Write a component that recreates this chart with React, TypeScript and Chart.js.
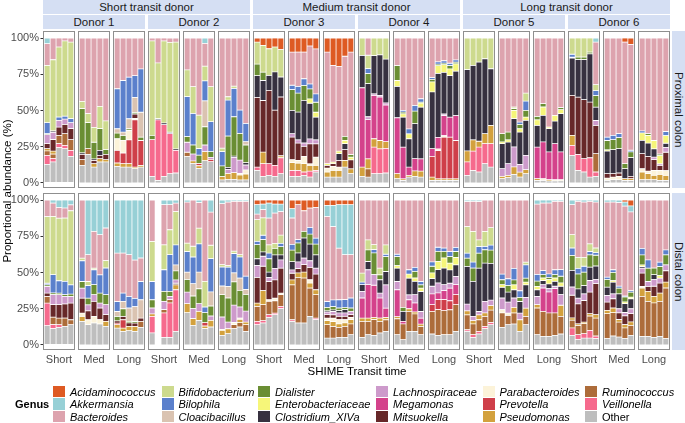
import React, { useEffect, useRef } from "react";
import { Chart, registerables } from "chart.js";

Chart.register(...registerables);

type Bar = { [k: string]: number };

// ---------- categories / labels ----------
const GENERA = [
  "Acidaminococcus", "Akkermansia", "Bacteroides", "Bifidobacterium", "Bilophila", "Cloacibacillus",
  "Dialister", "Enterobacteriaceae", "Clostridium_XIVa", "Lachnospiraceae", "Megamonas", "Mitsuokella",
  "Parabacteroides", "Prevotella", "Pseudomonas", "Ruminococcus", "Veillonella", "Other",
];
const KEYS = ["Ac", "Ak", "Ba", "Bi", "Bl", "Cl", "Di", "En", "Cx", "La", "Me", "Mi", "Pa", "Pr", "Ps", "Ru", "Ve", "Ot"];
const COLORS = [
  "#DE5A23", "#97D0D6", "#DDA3AE", "#CDDA8E", "#5B80CC", "#DAC3B1",
  "#6A8E33", "#F6F679", "#373140", "#CD9ACB", "#D4428B", "#672829",
  "#FCF3D9", "#CF3F49", "#D3A13D", "#AD6C3A", "#F66A8D", "#BEBEBE",
];
const TRANSIT_GROUPS = ["Short transit donor", "Medium transit donor", "Long transit donor"];
const DONORS = ["Donor 1", "Donor 2", "Donor 3", "Donor 4", "Donor 5", "Donor 6"];
const TRANSIT_TIMES = ["Short", "Med", "Long"];
const LOCATIONS = ["Proximal colon", "Distal colon"];
const Y_TICKS = [0, 25, 50, 75, 100];
const X_TITLE = "SHIME Transit time";
const Y_TITLE = "Proportional abundance (%)";
const LEGEND_TITLE = "Genus";

// ---------- data: proximal colon (5 timepoints per panel, % abundance) ----------
const proxD1Short: Bar[] = [
  { Ot: 12.9, Ve: 6.2, Ps: 1.6, Ru: 3, Mi: 3.4, La: 6.2, Di: 0.7, Bl: 7.6, Bi: 39.5, Ba: 15, Ak: 3.9 },
  { Ot: 14.5, Ve: 2.5, Ps: 2, Ru: 3, Mi: 8, La: 5, Cx: 1, Bi: 49, Ba: 15 },
  { Ot: 24.4, Ve: 2.8, Ru: 5.7, Mi: 5.7, La: 4.6, Bl: 2.3, Bi: 48.3, Ba: 6.2 },
  { Ot: 23.7, Ve: 2.3, Ru: 8, Mi: 6.4, La: 3.7, Bl: 2, Bi: 51.9, Ba: 2 },
  { Ot: 18.4, Ve: 4.1, Ru: 7.4, Mi: 7.6, La: 4.1, Bl: 2.8, Bi: 52.8, Ba: 2.8 },
];
const proxD1Med: Bar[] = [
  { Ot: 12.2, Ru: 3.9, Mi: 3.7, Cx: 1, Di: 30.5, Bi: 5, Ba: 43.7 },
  { Ot: 19.8, Ru: 3.9, Di: 18, Bi: 6.2, Ba: 52.1 },
  { Ot: 11, Ps: 2.3, Mi: 2.3, Cx: 1, Di: 11.5, Bi: 10.3, Ba: 61.6 },
  { Ot: 14.5, Ps: 2.3, Mi: 2.3, Cx: 3.4, Di: 15, Bi: 15.4, Ba: 47.1 },
  { Ot: 14.5, Ps: 1.6, Mi: 3.7, Di: 3.2, Bi: 19.8, Ba: 57.2 },
];
const proxD1Long: Bar[] = [
  { Ot: 11.5, Ps: 2.3, Pr: 8.7, Pa: 8, Di: 3.9, Cl: 3, Bl: 27.6, Ba: 35 },
  { Ot: 11, Ps: 2.3, Pr: 7.4, Pa: 8.7, Di: 3.4, Cl: 2.3, Bl: 35.6, Ba: 29.3 },
  { Ot: 11, Ps: 2.3, Pr: 16.5, Pa: 6.4, Di: 1.2, Cl: 6.9, Bl: 28.7, Ba: 27 },
  { Ot: 9.9, Ps: 1.1, Pr: 32.6, Mi: 3, Pa: 1, Di: 1.1, Cl: 10.3, Bl: 15, Ba: 26 },
  { Ot: 11, Ps: 1.1, Pr: 17.2, Di: 2.3, Cl: 17.2, Bl: 29.9, Ba: 21.3 },
];
const proxD2Short: Bar[] = [
  { Ot: 4.6, Ve: 25.3, Di: 3, Bi: 65.1, Ba: 2 },
  { Ot: 1.8, Ve: 41.8, Cx: 0.8, Bi: 38.4, Ba: 17.2 },
  { Ot: 4.6, Ve: 35.6, Cx: 1.2, Bi: 56.6, Ba: 2 },
  { Ot: 6.4, Ve: 27.6, Cx: 1, Bi: 62, Ba: 3 },
  { Ot: 6.9, Ve: 15.6, Cx: 1, Bi: 73.7, Ba: 2.8 },
];
const proxD2Med: Bar[] = [
  { Ot: 18.2, Ru: 3, La: 6.9, Di: 3.9, Bl: 27.6, Bi: 18.4, Ba: 22 },
  { Ot: 13.6, Ps: 1.6, La: 4.8, Di: 6.2, Bl: 21.8, Bi: 18.4, Ba: 33.6 },
  { Ot: 10.1, Pr: 1.6, Ps: 1.8, Di: 5.7, Bl: 4.6, Bi: 23, Ba: 53.2 },
  { Ot: 15.4, Ps: 6.2, La: 4.6, Di: 12.6, Cl: 17.9, Bl: 13.8, Bi: 10.1, Ba: 15.7, Ak: 3.7 },
  { Ot: 14.7, Pr: 1.6, La: 1.4, Di: 3.9, Bl: 20.7, Bi: 24.1, Ba: 33.6 },
];
const proxD2Long: Bar[] = [
  { Ot: 2.1, Ps: 2.3, Di: 7.4, Bl: 9.9, Bi: 2.3, Ba: 76 },
  { Ot: 2.5, Ps: 4.1, La: 2.8, Cx: 1.4, Di: 21.6, Bl: 24.8, Bi: 2.3, Ba: 40.5 },
  { Ot: 2.5, Ps: 4.6, La: 10.6, Cx: 0.9, Di: 27.1, Bl: 19.5, Bi: 1.6, Ba: 33.2 },
  { Ot: 2.1, Ps: 3.4, Pa: 1.1, La: 9.2, Di: 18.4, Bl: 16.1, Ba: 49.7 },
  { Ot: 2.1, Ps: 4.1, Pa: 2.8, La: 3.4, Cx: 1.6, Di: 12.2, Cl: 2.3, Bl: 12.6, Ba: 58.9 },
];
const proxD3Short: Bar[] = [
  { Ot: 8.7, Ve: 2.3, Mi: 48, Cx: 15, Di: 8, Bi: 15.2, Ac: 2.8 },
  { Ot: 4.6, Ve: 8.7, Ps: 8, Mi: 35.6, Cx: 13.8, Di: 5.7, Bi: 18.5, Ac: 5.1 },
  { Ot: 5.3, Ve: 8, Mi: 50.6, Cx: 10.3, Bi: 18.4, Ac: 7.4 },
  { Ot: 4.6, Ve: 7.6, Mi: 38, Cx: 26.4, Bi: 17.2, Ac: 6.2 },
  { Ot: 6.4, Ve: 11, Ps: 1.4, Mi: 40.5, Cx: 13.8, Bi: 18.9, Ac: 8 },
];
const proxD3Med: Bar[] = [
  { Ot: 4.6, Ve: 4.1, Ps: 5.3, Pa: 2.1, Mi: 15.6, La: 2.3, Cx: 16.1, Di: 14.3, Bl: 3, Ba: 22.9, Ac: 9.7 },
  { Ot: 4.6, Ve: 4.1, Ps: 5, Pa: 1.8, Mi: 12, La: 2.3, Cx: 19.1, Di: 13.1, Bl: 4.6, Ba: 23.7, Ac: 9.7 },
  { Ot: 5.3, Ve: 2.3, Ps: 5.7, Pa: 5.1, Mi: 6.9, La: 2.3, Cx: 29.4, Di: 10.3, Bl: 4.6, Ba: 18.4, Ac: 9.7 },
  { Ot: 4.1, Ve: 4.1, Ps: 3.9, Pa: 1.1, Mi: 13.8, La: 3.4, Cx: 24.6, En: 3, Di: 6.9, Bl: 3.4, Ba: 26.2, Ac: 5.5 },
  { Ot: 7.6, Ve: 1.1, Ps: 3.4, Pa: 5.7, Mi: 9.2, La: 2.8, Cx: 15.6, En: 3.4, Di: 6.9, Bl: 5.7, Ba: 31.1, Ac: 7.5 },
];
const proxD3Long: Bar[] = [
  { Ot: 4.1, Ps: 3.4, Pa: 2.8, Mi: 1.8, En: 1.2, Ba: 77, Ac: 9.7 },
  { Ot: 4.1, Ps: 4.6, Pa: 2.8, Mi: 1.8, En: 1.1, Ba: 66.7, Ac: 18.9 },
  { Ot: 4.1, Ps: 4.6, Pa: 2.3, Mi: 4.6, Cx: 4.6, En: 1.8, Ba: 58.5, Ac: 19.5 },
  { Ot: 11, Ps: 4.6, Mi: 7.4, Cx: 4.1, En: 2.3, Di: 2.8, Ba: 55.2, Ac: 12.6 },
  { Ot: 6.4, Ps: 3.4, Mi: 6.2, En: 1.8, Di: 1.8, Ba: 70.7, Ac: 9.7 },
];
const proxD4Short: Bar[] = [
  { Ot: 4.6, Ps: 6.4, Me: 54.7, Cx: 22.3, Bi: 12 },
  { Ot: 4.1, Ps: 6.9, Ru: 5.7, Me: 27, La: 2, Cx: 22.9, Di: 6.9, Bl: 3.4, Bi: 9.2, Ba: 11.9 },
  { Ot: 6.4, Ve: 18.4, Ps: 5.7, Me: 29.9, La: 1.1, Cx: 26.4, Bi: 12.1 },
  { Ot: 6.4, Ve: 17.2, Ps: 5.7, Me: 30, La: 1.1, Cx: 28, Bi: 11.6 },
  { Ot: 6.9, Ve: 17, Ps: 4.6, Me: 25.3, La: 1.4, Cx: 30.3, Bi: 14.5 },
];
const proxD4Med: Bar[] = [
  { Ot: 3, Ps: 3.4, Me: 38.6, Cx: 21.6, En: 4.1, Di: 10.3, Ba: 19 },
  { Ot: 1.8, Ps: 1.1, Me: 21.8, Cx: 20.7, En: 2.3, Di: 1.2, Bl: 1.2, Ba: 49.9 },
  { Ot: 4.1, Ps: 1.2, Me: 5.7, Cx: 19.5, En: 3.4, Bl: 3.4, Ba: 62.7 },
  { Ot: 4.6, Ps: 3.7, Me: 8.5, Cx: 24.1, Di: 8.7, Bl: 3.9, Ba: 46.5 },
  { Ot: 4.1, Ps: 4.1, Me: 8.5, Cx: 35.6, En: 2.8, Di: 0.7, Bl: 2.3, Ba: 41.9 },
];
const proxD4Long: Bar[] = [
  { Ot: 1.8, Ps: 2.3, Pr: 14.3, Me: 5.3, Cx: 39.1, En: 6.9, Di: 1.8, Bl: 1.2, Ba: 27.3 },
  { Ot: 1.8, Ps: 1.1, Pr: 19.5, Pa: 1.1, Me: 8, Cx: 44.1, En: 5.3, Di: 1.1, Bl: 1.6, Ba: 16.4 },
  { Ot: 1.8, Ps: 1.1, Pr: 28.7, Pa: 1.1, Me: 13.8, La: 1.1, Cx: 28.7, En: 5.3, Di: 1.1, Bl: 1.6, Ba: 15.7 },
  { Ot: 1.8, Ps: 1.1, Pr: 28.7, Me: 13.8, Cx: 28.7, En: 4.6, Di: 2.3, Bl: 1.6, Ba: 17.4 },
  { Ot: 1.8, Ps: 1.1, Pr: 26.4, Me: 17.2, Cx: 30.6, En: 5.1, Di: 1.1, Bl: 1.6, Ba: 15.1 },
];
const proxD5Short: Bar[] = [
  { Ot: 5.3, Ve: 9.2, Ps: 7.6, Cx: 56.1, Bi: 21.8 },
  { Ot: 8.7, Ve: 13.3, Ps: 7.8, Cx: 51.3, Bi: 18.9 },
  { Ot: 7.6, Ve: 17.2, Ps: 4, Cx: 54.6, Bi: 16.6 },
  { Ot: 13.3, Ve: 13.8, Ps: 6.9, Cx: 51.7, Bi: 14.3 },
  { Ot: 11, Ve: 16.1, Ps: 12.6, Cx: 39.1, Bi: 21.2 },
];
const proxD5Med: Bar[] = [
  { Ot: 3, Ps: 1.6, La: 5.3, Cx: 17.2, En: 1.2, Di: 5.7, Ba: 66 },
  { Ot: 3.7, Ps: 1.6, La: 8, Cx: 14.9, En: 1.6, Di: 5.3, Ba: 64.9 },
  { Ot: 6, Ps: 5.1, La: 13.8, Cx: 19.5, En: 5.7, Di: 1.2, Bi: 1.1, Ba: 47.6 },
  { Ot: 4.1, Ps: 3.4, La: 5.3, Cx: 22.3, En: 2.3, Di: 3, Bl: 1.6, Ba: 58 },
  { Ot: 6.4, Ps: 2.8, La: 9.9, Cx: 24.1, En: 2.3, Di: 4.6, Bl: 6.4, Bi: 5.5, Ba: 38 },
];
const proxD5Long: Bar[] = [
  { Ot: 1.8, Ps: 1.2, Me: 21.8, Cx: 14.9, En: 3.9, Di: 2.3, Ba: 54.1 },
  { Ot: 1.8, Pa: 1.2, Me: 25.3, Cx: 18.4, En: 5.7, Di: 2.3, Ba: 45.3 },
  { Ot: 1.4, Ps: 0.9, Me: 19.1, Cx: 16.1, En: 1.1, Ba: 61.4 },
  { Ot: 1.4, Pa: 0.9, Me: 24.8, Cx: 15.6, En: 3.9, Ba: 53.4 },
  { Ot: 1.4, Pa: 0.9, Me: 19.1, Cx: 26.4, En: 2.8, Di: 1.4, Ba: 48 },
];
const proxD6Short: Bar[] = [
  { Ot: 19.1, Ve: 6.9, Ps: 6.9, Mi: 27.6, Cx: 25.7, Di: 0.6, Bl: 2, Bi: 11.2 },
  { Ot: 8.7, Ve: 11, Mi: 39.5, Cx: 25.9, Di: 1.8, Bi: 13.1 },
  { Ot: 7.6, Ve: 9.2, Mi: 40.7, Cx: 27.6, Di: 1.8, Bi: 13.1 },
  { Ot: 4.1, Ve: 13.3, Mi: 38.4, Cx: 33.3, Di: 1.2, Bi: 9.7 },
  { Ot: 4.6, Ve: 3, Ru: 12.6, Mi: 19.5, La: 3.4, Cx: 9.2, Di: 8, Bl: 3.4, Bi: 4.1, Ba: 29.4, Ak: 2.8 },
];
const proxD6Med: Bar[] = [
  { Ot: 1.8, Pa: 1.6, Mi: 3, Cx: 15.6, En: 0.9, Di: 6.4, Bl: 2.3, Ba: 68.4 },
  { Ot: 2.3, Pa: 1.8, Mi: 2.3, Cx: 16.6, Di: 6.9, Bl: 3, Ba: 67.1 },
  { Ot: 2.3, Pa: 2.3, Mi: 2.3, Cx: 16.8, Di: 7.6, Bl: 2.8, Ba: 65.9 },
  { Ot: 1.8, Ps: 1.2, Cx: 6.9, Di: 3.4, Ba: 83.9, Ac: 2.8 },
  { Ot: 1.8, Ps: 1.2, Mi: 1.6, Cx: 12.9, Di: 3.9, Bl: 1.2, Ba: 73, Ac: 4.4 },
];
const proxD6Long: Bar[] = [
  { Ot: 2.3, Ps: 5.3, Pa: 2.3, Mi: 10.3, Cx: 9.2, En: 5.1, Bl: 1.4, Ba: 64.1 },
  { Ot: 2.3, Ps: 4.1, Pa: 1.8, Mi: 10.1, Cx: 9.2, En: 5.3, Di: 1.2, Ba: 66 },
  { Ot: 2.3, Ps: 3, Pa: 3.4, Mi: 7.4, La: 1.8, Cx: 5.7, En: 5.7, Ba: 70.7 },
  { Ot: 1.8, Ps: 4.1, Pa: 2.8, Mi: 3.4, La: 1.1, En: 5.7, Di: 1.1, Ba: 80 },
  { Ot: 1.8, Ps: 3.4, Pa: 3.4, Mi: 12.6, La: 3.4, Cx: 2.8, En: 5.3, Bl: 2.8, Ba: 64.5 },
];

// ---------- data: distal colon ----------
const distD1Short: Bar[] = [
  { Ot: 13.3, Ve: 15.6, Ru: 4.6, Mi: 2.3, La: 4.6, Di: 1.1, Bl: 1.1, Bi: 46, Ba: 11.4 },
  { Ot: 11.3, Ve: 2.8, Ru: 5.1, Mi: 8.7, La: 6.9, Di: 1.1, Bl: 12.6, Bi: 40.2, Ba: 9.2, Ak: 2.1 },
  { Ot: 12.2, Ve: 1.8, Ru: 4.6, Mi: 9.2, La: 6.9, Di: 1.1, Bl: 8.5, Bi: 43.2, Ba: 7.4, Ak: 5.1 },
  { Ot: 12.9, Ru: 5.7, Mi: 9.7, La: 5.3, Di: 1.1, Bl: 9.2, Bi: 43.7, Ba: 6.9, Ak: 5.5 },
  { Ot: 14, Ru: 3.4, Mi: 11.5, La: 4.6, Di: 1.6, Bl: 6.4, Bi: 51.1, Ba: 4.1, Ak: 3.3 },
];
const distD1Med: Bar[] = [
  { Ot: 16.3, Ps: 3.4, Pa: 2.3, Mi: 10.3, La: 6.9, Di: 4.6, Bl: 14.3, Bi: 1.8, Ba: 40.1 },
  { Ot: 14, Pa: 3.4, Mi: 6.2, La: 4.1, Di: 4.6, Bl: 8.7, Bi: 2.8, Ba: 18.5, Ak: 37.7 },
  { Ot: 15.2, Pa: 4.6, Mi: 10.3, La: 4.6, Di: 6.9, Bl: 10.3, Bi: 1.1, Ba: 25.4, Ak: 21.6 },
  { Ot: 14.5, Pa: 3, Mi: 8, La: 3.4, Di: 6.9, Bl: 12.6, Ba: 27.7, Ak: 23.9 },
  { Ot: 12.9, Ps: 3.4, Mi: 4.6, La: 6.9, Di: 6.9, Bl: 18.4, Bi: 5.1, Ba: 22.5, Ak: 19.3 },
];
const distD1Long: Bar[] = [
  { Ot: 11.7, Ps: 2.3, Pr: 1.1, Mi: 1.6, Di: 3, Cl: 3.4, Bl: 6.9, Ba: 33.4, Ak: 36.6 },
  { Ot: 9.4, Ps: 2.3, Pr: 5.7, Mi: 2.3, Di: 5.3, Cl: 5.1, Bl: 5.7, Ba: 27.6, Ak: 36.6 },
  { Ot: 9.9, Ps: 3, Mi: 2.3, Di: 1.1, Cl: 9.2, Bl: 8, Ba: 28.8, Ak: 37.7 },
  { Ot: 9.4, Ps: 3.4, Mi: 2.3, Di: 1.1, Cl: 10.3, Bl: 5.7, Ba: 26.4, Ak: 41.4 },
  { Ot: 12.2, Ru: 4.1, Mi: 2.3, Cl: 12.6, Bl: 12.6, Ba: 16.2, Ak: 40 },
];
const distD2Short: Bar[] = [
  { Ot: 8.3, Ve: 11.5, Ps: 1.6, La: 4.1, Di: 5.7, Bl: 12.6, Bi: 27.6, Ba: 28.6 },
  {},
  { Ot: 5.3, Ve: 16.8, Ru: 2.3, La: 5.7, Di: 6.9, Bl: 14.9, Bi: 17.2, Ba: 27.7, Ak: 3.2 },
  { Ot: 5.3, Ve: 23.7, Ru: 2.3, La: 2.3, Di: 3.4, Bl: 25.3, Bi: 17.2, Ba: 17.3, Ak: 3.2 },
  { Ot: 9.4, Ve: 28.7, Ps: 3.4, Mi: 1.1, La: 2.3, Di: 6.2, Cl: 4.1, Bl: 13.8, Bi: 23, Ba: 5.9, Ak: 2.1 },
];
const distD2Med: Bar[] = [
  { Ot: 22.3, Ps: 6.2, La: 8, Di: 8.7, Cl: 5, Bl: 14.3, Bi: 5.7, Ba: 28.4, Ak: 1.4 },
  { Ot: 13.6, Ps: 4.6, La: 6.9, Di: 8.7, Cl: 8.5, Bl: 18.4, Bi: 7.4, Ba: 31.9 },
  { Ot: 17, Ps: 6.2, La: 5.3, Di: 10.3, Cl: 11.5, Bl: 19.5, Bi: 10.8, Ba: 17.6, Ak: 1.8 },
  { Ot: 11.3, Pr: 2.3, Ps: 1.8, Di: 6.9, Bl: 3.9, Bi: 17.7, Ba: 56.1 },
  { Ot: 12.4, Ps: 4.6, La: 3, Di: 6.9, Cl: 9.7, Bl: 23, Bi: 9.2, Ba: 22.9, Ak: 8.3 },
];
const distD2Long: Bar[] = [
  { Ot: 6.7, Ps: 3.4, Pa: 0.7, La: 8.5, Di: 15.4, Cl: 6, Bl: 13.1, Bi: 1.6, Ba: 42.1, Ak: 2.5 },
  { Ot: 7.8, Ps: 3.4, La: 4.6, Di: 16.6, Cl: 8, Bl: 13.3, Bi: 1.1, Ba: 43.8, Ak: 1.4 },
  { Ot: 11.3, Ru: 2.8, Pa: 1.4, La: 12, Di: 16.1, Cl: 6.2, Bl: 13.3, Bi: 1.6, Ba: 34.4, Ak: 0.9 },
  { Ot: 12.4, Ru: 3, Ps: 2.3, Pa: 0.9, La: 7.6, Di: 11.5, Cl: 8.5, Bl: 14.5, Bi: 1.6, Ba: 36.8, Ak: 0.9 },
  { Ot: 9.4, Ru: 4.6, Ps: 1.8, La: 7.6, Di: 11.5, Cl: 3.4, Bl: 9.2, Ba: 51.6, Ak: 0.9 },
];
const distD3Short: Bar[] = [
  { Ot: 14, Ve: 2.3, Ru: 10.3, Ps: 2.3, Mi: 17.7, La: 8.3, Cx: 4.6, Di: 9.7, Bl: 2.3, Bi: 14.9, Ba: 3.9, Ak: 6.5, Ac: 3.2 },
  { Ot: 15.2, Ve: 1.6, Ru: 11, Ps: 9.7, Mi: 16.8, La: 6.9, Cx: 3, Di: 8.5, Bl: 3, Bi: 12, Ba: 5.7, Ak: 3.8, Ac: 2.8 },
  { Ot: 19.1, Ve: 1.8, Ru: 9.2, Pa: 1.1, Mi: 12.6, La: 2.8, Cx: 3.7, Di: 9.2, Bl: 3.9, Bi: 5.7, Ba: 18.5, Ak: 10.3, Ac: 2.1 },
  { Ot: 20.9, Ve: 1.1, Ru: 8.5, Pa: 1.8, Mi: 12.6, La: 8, Cx: 9.2, Di: 4.6, Bi: 3.4, Ba: 20.9, Ak: 6.2, Ac: 2.8 },
  { Ot: 25.1, Ve: 1.6, Ru: 8, Pa: 1.1, Mi: 17.2, La: 5.7, Cx: 3.4, Di: 5.7, Bl: 2.3, Bi: 5.7, Ba: 16.2, Ak: 5.2, Ac: 2.8 },
];
const distD3Med: Bar[] = [
  { Ot: 16.3, Ve: 1.1, Ru: 24.1, Ps: 3.4, Mi: 4.6, La: 2.3, Cx: 5.7, Di: 8, Bl: 3.9, Ba: 18.2, Ak: 6.4, Ac: 6 },
  { Ot: 15.2, Ru: 31.5, Ps: 3, Mi: 3, La: 4.6, Cx: 6.2, Di: 6.9, Bl: 2.3, Ba: 24.1, Ac: 3.2 },
  { Ot: 15.2, Ru: 31, Ps: 4.1, Mi: 5.1, La: 4.6, Cx: 13.8, Di: 4.6, Ba: 14.2, Ac: 7.4 },
  { Ot: 19.8, Ru: 19.5, Pa: 2.3, Ps: 3.4, Mi: 8.5, La: 4.6, Cx: 11.5, Di: 6.9, Bl: 4.6, Ba: 13.4, Ac: 5.5 },
  { Ot: 17.5, Ve: 1.1, Ru: 16.1, Ps: 3.4, Mi: 10.8, La: 4.1, Cx: 9.2, Di: 7.4, Bl: 4.1, Ba: 21.2, Ac: 5.1 },
];
const distD3Long: Bar[] = [
  { Ot: 4.8, Ru: 9.2, Ps: 2.8, Pa: 1.8, Mi: 2.3, La: 1.8, Cx: 0.9, Di: 2.3, Bl: 4.1, Ba: 58.7, Ak: 7.6, Ac: 3.7 },
  { Ot: 4.8, Ru: 8, Ps: 3.4, Pa: 2.3, Mi: 2.3, La: 2.3, Cx: 1.1, Di: 2.3, Bl: 4.6, Ba: 50.6, Ak: 14.6, Ac: 3.7 },
  { Ot: 5.3, Ru: 6.9, Ps: 2.3, Pa: 3, Mi: 2.3, La: 2.3, Cx: 1.6, Di: 1.8, Bl: 5.7, Ba: 35.6, Ak: 30, Ac: 3.2 },
  { Ot: 5.3, Ru: 7.6, Ps: 2.3, Pa: 2.3, Mi: 2.3, La: 2.3, Cx: 2.3, Di: 1.6, Bl: 5.3, Ba: 31, Ak: 34.5, Ac: 3.2 },
  { Ot: 7.1, Ru: 7.4, Ps: 3, Pa: 1.6, Mi: 1.8, La: 2.3, Di: 2.3, Bl: 6.9, Ba: 29.9, Ak: 34.5, Ac: 3.2 },
];
const distD4Short: Bar[] = [
  { Ot: 5.3, Ru: 11, Ps: 2.3, Me: 13.8, La: 4.6, Cx: 4.6, Bl: 1.8, Bi: 6.2, Ba: 50.4 },
  { Ot: 7.1, Ru: 9.2, Ps: 2.3, Me: 23, La: 10.3, Cx: 5.7, Di: 8, Bi: 6.9, Ba: 27.5 },
  { Ot: 6.7, Ru: 10.8, Ps: 1.6, Me: 22.1, La: 7.4, Di: 14.9, Bl: 2.3, Bi: 3.4, Ba: 30.8 },
  { Ot: 8.3, Ru: 8, Ps: 2.3, Me: 13.8, La: 3.4, Cx: 9.2, Di: 3.4, Bi: 4.6, Ba: 47 },
  { Ot: 9.4, Ru: 8, Ps: 1.6, Me: 6.4, La: 16.1, Cx: 9.2, Di: 10.3, Bl: 1.6, Bi: 6.4, Ba: 31 },
];
const distD4Med: Bar[] = [
  { Ot: 7.1, Ru: 11, Ps: 1.4, Me: 18.6, La: 5.7, Cx: 9.2, En: 1.8, Di: 6.2, Bl: 1.6, Ba: 37.4 },
  { Ot: 3.7, Ru: 10.8, Me: 1.8, Cx: 6.9, Di: 2.8, Ba: 74 },
  { Ot: 9.4, Ru: 13.8, Ps: 1.8, Me: 6.2, La: 3.4, Cx: 11.5, En: 2.8, Bl: 3, Ba: 48.1 },
  { Ot: 9.4, Ru: 12, Ps: 1.4, Me: 6.2, La: 5.7, Cx: 9.2, En: 2.3, Di: 4.6, Bl: 2.8, Ba: 46.4 },
  { Ot: 7.1, Ru: 5.7, Ps: 1.6, Me: 4.1, La: 4.6, Cx: 13.8, En: 2.3, Di: 2.3, Bl: 2.3, Ba: 56.2 },
];
const distD4Long: Bar[] = [
  { Ot: 7.6, Ru: 15.6, Pr: 4.6, Me: 7.4, La: 5.3, Cx: 5.3, En: 3.9, Di: 4.6, Bl: 3, Ba: 42.7 },
  { Ot: 6.7, Ru: 17.7, Pr: 6.9, Me: 4.6, La: 6.9, Cx: 9.2, En: 5.7, Di: 6.9, Bl: 2.8, Ba: 32.6 },
  { Ot: 7.1, Ru: 16.6, Pr: 7.6, Me: 6.2, La: 4.1, Cx: 11.5, En: 6.9, Di: 4.6, Bl: 2.3, Ba: 33.1 },
  { Ot: 7.1, Ru: 17.2, Pr: 6.2, Me: 8.7, La: 3.4, Cx: 9.2, En: 4.6, Di: 4.6, Bl: 3.4, Ba: 35.6 },
  { Ot: 9.4, Ru: 18.4, Pr: 6.9, Me: 6.9, La: 5.7, Cx: 8, En: 5.1, Di: 4.1, Bl: 2.8, Ba: 32.7 },
];
const distD5Short: Bar[] = [
  { Ot: 9.4, Ve: 1.1, Ru: 10.3, Ps: 2.8, La: 4.6, Cx: 26, Di: 5.7, Bl: 3.4, Bi: 18.4, Ba: 17.2, Ak: 1.1 },
  { Ot: 5.3, Ve: 1.8, Ru: 7.4, Ps: 2.3, La: 3, Cx: 24.1, Di: 9.2, Bl: 4.1, Bi: 21.1, Ba: 20.8, Ak: 0.9 },
  { Ot: 7.6, Ve: 1.8, Ru: 8, Ps: 3.4, La: 2.3, Cx: 29.9, Di: 10.3, Bl: 4.6, Bi: 4.6, Ba: 26.4, Ak: 1.1 },
  { Ot: 11.3, Ve: 1.6, Ru: 6.9, Ps: 2.3, La: 8, Cx: 26.4, Di: 9.2, Bl: 2.3, Bi: 10.3, Ba: 21.7 },
  { Ot: 14, Ve: 1.6, Ru: 8.5, Ps: 3, La: 3.9, Cx: 25.3, Di: 9.2, Bl: 3.4, Bi: 12, Ba: 19.1 },
];
const distD5Med: Bar[] = [
  { Ot: 12.2, Ru: 9.9, Pa: 2.3, La: 8, Cx: 7.4, En: 1.8, Di: 3.4, Bl: 3.9, Ba: 51.1 },
  { Ot: 14, Ru: 6.4, Pa: 1.6, La: 7.6, Cx: 6.9, Di: 4.6, Bl: 4.6, Ba: 54.3 },
  { Ot: 14.5, Ru: 7.6, Ps: 3.9, La: 6.4, Cx: 5.7, En: 3.4, Di: 3.4, Bl: 8, Ba: 47.1 },
  { Ot: 9.4, Ps: 8, La: 4.6, Cx: 8, Di: 2.8, Bl: 4.6, Ba: 62.6 },
  { Ot: 14, Ru: 5.7, Ps: 5.7, La: 7.4, Cx: 8.7, En: 1.8, Di: 2.8, Bl: 9.2, Bi: 1.8, Ba: 42.9 },
];
const distD5Long: Bar[] = [
  { Ot: 7.1, Ru: 18.4, Ps: 2.3, La: 5.7, Cx: 4.6, En: 2.3, Di: 3.7, Bl: 4.6, Ba: 48.5, Ak: 2.8 },
  { Ot: 6, Ru: 17.2, Me: 16.1, La: 2.3, Cx: 2.8, En: 1.8, Di: 2.3, Bl: 2.8, Ba: 46.6, Ak: 2.1 },
  { Ot: 6, Ru: 16.1, Me: 14.5, La: 2.3, Cx: 3.2, En: 3, Di: 1.6, Bl: 2.3, Ba: 48.9, Ak: 2.1 },
  { Ot: 6.7, Ru: 15.4, Me: 16.8, La: 1.6, Cx: 3.4, En: 2.3, Di: 2.3, Bl: 3.4, Ba: 47.2, Ak: 0.9 },
  { Ot: 7.6, Ru: 12.2, Ps: 7.6, La: 7.4, Cx: 5.7, En: 2.3, Di: 4.6, Bl: 4.6, Ba: 47.1, Ak: 0.9 },
];
const distD6Short: Bar[] = [
  { Ot: 6.7, Ve: 5.1, Ru: 5.3, Ps: 1.6, Mi: 15.6, La: 5.7, Cx: 11.5, Di: 10.3, Bl: 5.1, Bi: 9.2, Ba: 20.7, Ak: 3.2 },
  { Ot: 3.9, Ve: 3.2, Ru: 6.4, Ps: 1.1, Mi: 13.8, La: 3.9, Cx: 6.4, Di: 10.3, Bl: 3.9, Bi: 7.6, Ba: 38.6, Ak: 0.9 },
  { Ot: 4.8, Ve: 3, Ru: 6.9, Ps: 1.1, Mi: 14.9, La: 4.6, Cx: 5.7, Di: 9.2, Bl: 4.1, Bi: 6.2, Ba: 38.1, Ak: 1.4 },
  { Ot: 4.8, Ve: 5.3, Ru: 9.9, Ps: 1.6, Mi: 14.9, La: 8, Cx: 9.2, Di: 8.5, Bl: 2.3, Bi: 5.3, Ba: 29.3, Ak: 0.9 },
  { Ot: 4.4, Ve: 1.8, Ru: 12.4, Ps: 2.3, Mi: 21.4, La: 3, Cx: 9.2, Di: 7.4, Bl: 1.8, Bi: 3.2, Ba: 31.7, Ak: 1.4 },
];
const distD6Med: Bar[] = [
  { Ot: 4.4, Ru: 17.2, Ps: 2.3, Mi: 5.7, La: 4.6, Cx: 5.7, Di: 5.3, Bl: 1.6, Ba: 51.8, Ak: 1.4 },
  { Ot: 6.2, Ru: 16.1, Ps: 3.2, Mi: 6.4, La: 3.4, Cx: 8, En: 1.1, Di: 5.7, Bl: 1.8, Ba: 46.7, Ak: 1.4 },
  { Ot: 5.5, Ru: 10.3, Ps: 1.8, Mi: 4.6, La: 2.8, Cx: 10.3, Di: 3.9, Bl: 1.4, Ba: 57.6, Ak: 1.8 },
  { Ot: 4.4, Ru: 7.4, Ps: 2.3, Mi: 6, La: 2.3, Cx: 6.2, En: 1.1, Di: 3.4, Bl: 0.7, Ba: 62, Ak: 2.8, Ac: 1.4 },
  { Ot: 6.7, Ru: 6.9, Ps: 2.3, Mi: 5.7, La: 3.4, Cx: 6.9, En: 1.1, Di: 3.4, Bl: 1.1, Ba: 54.3, Ak: 4.1, Ac: 4.1 },
];
const distD6Long: Bar[] = [
  { Ot: 6, Ru: 27.6, Ps: 5.7, Pa: 1.1, Mi: 9.2, La: 3.4, Cx: 1.1, En: 1.1, Di: 6.9, Bl: 4.6, Ba: 33.3 },
  { Ot: 6, Ru: 24.1, Ps: 6.9, Mi: 3.4, La: 3.4, Di: 9.2, Bl: 5.7, Ba: 41.3 },
  { Ot: 5.3, Ru: 23.7, Ps: 4.6, Mi: 6.9, La: 4.6, Cx: 3.4, Di: 4.6, Ba: 46.9 },
  { Ot: 6, Ru: 24.1, Ps: 5.7, Mi: 6.9, La: 3.4, En: 1.8, Di: 6.2, Bl: 3, Ba: 42.9 },
  { Ot: 4.4, Ru: 34.9, Ps: 4.1, Mi: 7.8, La: 4.1, Di: 6.9, Bl: 3.4, Ba: 34.4 },
];

const PROXIMAL = [
  proxD1Short, proxD1Med, proxD1Long, proxD2Short, proxD2Med, proxD2Long,
  proxD3Short, proxD3Med, proxD3Long, proxD4Short, proxD4Med, proxD4Long,
  proxD5Short, proxD5Med, proxD5Long, proxD6Short, proxD6Med, proxD6Long,
];
const DISTAL = [
  distD1Short, distD1Med, distD1Long, distD2Short, distD2Med, distD2Long,
  distD3Short, distD3Med, distD3Long, distD4Short, distD4Med, distD4Long,
  distD5Short, distD5Med, distD5Long, distD6Short, distD6Med, distD6Long,
];

// ---------- layout ----------
const FONT = '"Liberation Sans", Arial, Helvetica, sans-serif';
const PANEL_X0 = 43;
const PANEL_STEP = 35;
const PANEL_W = 32;
const PANEL_H = 157;
const ROW_TOP = [31, 193];
const AXIS_W = 40;
const Y_MIN = -3.45;
const Y_MAX = 104.83;
const STRIP_BG = "#d5dff3";
const LEGEND_COL_X = [53, 161.5, 258, 376, 482.5, 585];
const LEGEND_ROW_Y = [391.7, 404.1, 416.5];

function Panel({ bars, left, top, showAxis }: { bars: Bar[]; left: number; top: number; showAxis: boolean }) {
  const ref = useRef<HTMLCanvasElement>(null);
  const w = PANEL_W + (showAxis ? AXIS_W : 0);
  const x = left - (showAxis ? AXIS_W : 0);
  useEffect(() => {
    if (!ref.current) return;
    const stackOrder = KEYS.map((_, i) => i).reverse();
    const datasets = stackOrder.map((gi) => ({
      label: GENERA[gi],
      data: bars.flatMap((b, i) => {
        const v = b[KEYS[gi]];
        return v ? [{ x: i, y: v }] : [];
      }),
      backgroundColor: COLORS[gi],
      borderColor: "#ffffff",
      borderWidth: 0.4,
      borderSkipped: false,
      inflateAmount: 0,
      barPercentage: 1,
      categoryPercentage: 1,
    }));
    const chart = new Chart(ref.current, {
      type: "bar",
      data: { datasets } as any,
      options: {
        animation: false,
        responsive: false,
        maintainAspectRatio: false,
        events: [],
        layout: { padding: 0 },
        plugins: { legend: { display: false }, tooltip: { enabled: false } },
        scales: {
          x: {
            type: "linear",
            stacked: true,
            min: -0.7,
            max: 4.7,
            display: false,
            offset: false,
            afterBuildTicks: (axis: any) => {
              axis.ticks = [0, 1, 2, 3, 4].map((v) => ({ value: v }));
            },
          },
          y: {
            stacked: true,
            min: Y_MIN,
            max: Y_MAX,
            display: showAxis,
            position: "left",
            border: { display: false },
            grid: { drawOnChartArea: false, drawTicks: true, tickLength: 2.5, color: "#333333", lineWidth: 1 },
            ticks: {
              autoSkip: false,
              padding: 1.5,
              color: "#4d4d4d",
              font: { family: FONT, size: 11 },
              callback: (v: any) => `${v}%`,
            },
            afterBuildTicks: (axis: any) => {
              axis.ticks = Y_TICKS.map((v) => ({ value: v }));
            },
            afterFit: (axis: any) => {
              if (!showAxis) return;
              axis.width = AXIS_W;
              axis.paddingTop = 0;
              axis.paddingBottom = 0;
            },
          },
        },
      } as any,
    });
    return () => chart.destroy();
  }, [bars, showAxis]);
  return (
    <>
      <canvas
        ref={ref}
        width={w}
        height={PANEL_H}
        style={{ position: "absolute", left: x, top, width: w, height: PANEL_H }}
      />
      <div
        style={{
          position: "absolute",
          left,
          top,
          width: PANEL_W,
          height: PANEL_H,
          boxSizing: "border-box",
          border: "1px solid #8f8f8f",
          pointerEvents: "none",
        }}
      />
    </>
  );
}

const colLeft = (c: number) => PANEL_X0 + c * PANEL_STEP;

export default function App() {
  const rows = [PROXIMAL, DISTAL];
  const textBase: React.CSSProperties = { position: "absolute", fontFamily: FONT, whiteSpace: "nowrap" };
  return (
    <div
      style={{
        position: "absolute",
        left: 0,
        top: 0,
        width: 685,
        height: 423,
        background: "#ffffff",
        overflow: "hidden",
        fontFamily: FONT,
      }}
    >
      {TRANSIT_GROUPS.map((g, i) => {
        const l = colLeft(i * 6);
        const r = colLeft(i * 6 + 5) + PANEL_W;
        return (
          <div
            key={g}
            style={{
              ...textBase,
              left: l,
              top: 0,
              width: r - l,
              height: 14,
              lineHeight: "14px",
              background: STRIP_BG,
              textAlign: "center",
              fontSize: 11.5,
              color: "#1a1a1a",
            }}
          >
            {g}
          </div>
        );
      })}
      {DONORS.map((d, i) => {
        const l = colLeft(i * 3);
        const r = colLeft(i * 3 + 2) + PANEL_W;
        return (
          <div
            key={d}
            style={{
              ...textBase,
              left: l,
              top: 15,
              width: r - l,
              height: 14,
              lineHeight: "14px",
              background: STRIP_BG,
              textAlign: "center",
              fontSize: 11.5,
              color: "#1a1a1a",
            }}
          >
            {d}
          </div>
        );
      })}
      {LOCATIONS.map((loc, r) => (
        <div
          key={loc}
          style={{
            ...textBase,
            left: 672,
            top: ROW_TOP[r],
            width: 13,
            height: PANEL_H,
            background: STRIP_BG,
            display: "flex",
            alignItems: "center",
            justifyContent: "center",
            fontSize: 11.5,
            color: "#1a1a1a",
          }}
        >
          <span style={{ writingMode: "vertical-rl", lineHeight: "13px" }}>{loc}</span>
        </div>
      ))}
      {rows.map((row, r) =>
        row.map((bars, c) => (
          <Panel key={`${r}-${c}`} bars={bars} left={colLeft(c)} top={ROW_TOP[r]} showAxis={c === 0} />
        ))
      )}
      {DONORS.flatMap((_, d) =>
        TRANSIT_TIMES.map((t, k) => {
          const c = d * 3 + k;
          const cx = colLeft(c) + PANEL_W / 2;
          return (
            <div
              key={`xt-${c}`}
              style={{
                ...textBase,
                left: cx - 25,
                width: 50,
                top: 352,
                lineHeight: "14px",
                textAlign: "center",
                fontSize: 11,
                color: "#4d4d4d",
              }}
            >
              {t}
            </div>
          );
        })
      )}
      <div
        style={{
          ...textBase,
          left: 257,
          width: 200,
          top: 364,
          lineHeight: "14px",
          textAlign: "center",
          fontSize: 11.5,
          color: "#000000",
        }}
      >
        {X_TITLE}
      </div>
      <div
        style={{
          ...textBase,
          left: 7 - 100,
          top: 191 - 7,
          width: 200,
          height: 14,
          lineHeight: "14px",
          textAlign: "center",
          fontSize: 11.5,
          color: "#000000",
          transform: "rotate(-90deg)",
        }}
      >
        {Y_TITLE}
      </div>
      <div
        style={{
          ...textBase,
          left: 15,
          top: LEGEND_ROW_Y[1] - 7,
          lineHeight: "14px",
          fontSize: 11,
          fontWeight: "bold",
          color: "#000000",
        }}
      >
        {LEGEND_TITLE}
      </div>
      {GENERA.map((g, i) => {
        const col = Math.floor(i / 3);
        const row = i % 3;
        const kx = LEGEND_COL_X[col];
        const cy = LEGEND_ROW_Y[row];
        return (
          <React.Fragment key={g}>
            <div
              style={{
                position: "absolute",
                left: kx,
                top: cy - 5.75,
                width: 12,
                height: 11.5,
                background: COLORS[i],
              }}
            />
            <div
              style={{
                ...textBase,
                left: kx + 17,
                top: cy - 7,
                lineHeight: "14px",
                fontSize: 11,
                fontStyle: g === "Other" ? "normal" : "italic",
                color: "#000000",
              }}
            >
              {g}
            </div>
          </React.Fragment>
        );
      })}
    </div>
  );
}
